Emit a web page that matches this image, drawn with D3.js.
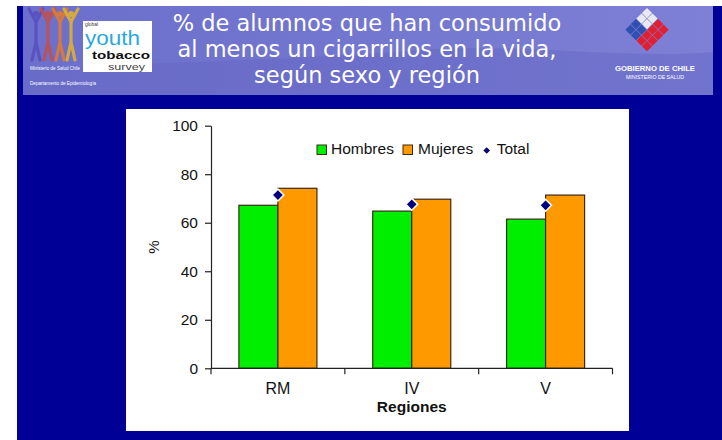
<!DOCTYPE html>
<html><head><meta charset="utf-8">
<script src="https://cdn.jsdelivr.net/npm/d3@7"></script>
<style>html,body{margin:0;padding:0;background:#fff;}svg{display:block;}</style>
</head><body>
<script>
const titleLines = ["% de alumnos que han consumido","al menos un cigarrillos en la vida,","según sexo y región"];
const categories = ["RM","IV","V"];
const seriesNames = ["Hombres","Mujeres"];
const hombres = [67.2, 64.8, 61.5];
const mujeres = [74.2, 69.7, 71.4];
const total = [71.4, 67.6, 67.2];
const yTicks = [0,20,40,60,80,100];
const legendLabels = ["Hombres","Mujeres","Total"];
const xTitle = "Regiones";
const yTitle = "%";

const colors = {Hombres:"#00ee00", Mujeres:"#ff9900", Total:"#000080"};
const W=722,H=440;
const svg = d3.select("body").append("svg").attr("width",W).attr("height",H);
const defs = svg.append("defs");
const g1 = defs.append("linearGradient").attr("id","ban").attr("x1","0").attr("x2","1").attr("y1","0").attr("y2","0");
g1.append("stop").attr("offset","0").attr("stop-color","#6c6fcb");
g1.append("stop").attr("offset","0.5").attr("stop-color","#7477cf");
g1.append("stop").attr("offset","1").attr("stop-color","#7d80d5");

// backgrounds
svg.append("rect").attr("x",17).attr("y",6).attr("width",W-17).attr("height",H-6).attr("fill","#000096");
svg.append("rect").attr("x",23).attr("y",6).attr("width",690).attr("height",89).attr("fill","url(#ban)");
svg.append("path").attr("d","M23,95 L23,70 C150,62 300,60 420,50 C520,42 620,60 713,52 L713,95 Z").attr("fill","#6467c4").attr("opacity",0.45);

// left figures logo
const figs = [{x:36,c:"#5a4fc0"},{x:48,c:"#c0504f"},{x:60,c:"#e07a30"},{x:71,c:"#e0b030"}];
figs.forEach((f,i)=>{
  const gg = svg.append("g").attr("fill","none").attr("stroke",f.c).attr("stroke-width",3.2).attr("stroke-linecap","round").attr("opacity",0.9);
  gg.append("circle").attr("cx",f.x).attr("cy",14).attr("r",3).attr("fill",f.c).attr("stroke","none");
  gg.append("path").attr("d",`M${f.x-7},9 L${f.x},22 L${f.x+7},9`);
  gg.append("path").attr("d",`M${f.x},20 L${f.x},42 M${f.x},42 L${f.x-4},60 M${f.x},42 L${f.x+4},60`);
});
const smallFont = "Liberation Sans, sans-serif";
svg.append("text").attr("x",30).attr("y",70).attr("font-family",smallFont).attr("font-size",6).attr("fill","#fff").attr("textLength",50).attr("lengthAdjust","spacingAndGlyphs").text("Ministerio de Salud Chile");
svg.append("text").attr("x",30).attr("y",85).attr("font-family",smallFont).attr("font-size",6).attr("fill","#fff").attr("textLength",66).attr("lengthAdjust","spacingAndGlyphs").text("Departamento de Epidemiología");
// GYTS box
svg.append("rect").attr("x",83).attr("y",21).attr("width",69).attr("height",51).attr("fill","#fff");
svg.append("text").attr("x",85).attr("y",25.5).attr("font-family",smallFont).attr("font-size",6).attr("fill","#333").attr("textLength",13).attr("lengthAdjust","spacingAndGlyphs").text("global");
svg.append("text").attr("x",85).attr("y",45).attr("font-family",smallFont).attr("font-size",20).attr("fill","#2aa8e0").attr("textLength",55).attr("lengthAdjust","spacingAndGlyphs").text("youth");
svg.append("text").attr("x",92).attr("y",59).attr("font-family",smallFont).attr("font-weight","bold").attr("font-size",11).attr("fill","#111").attr("textLength",58).attr("lengthAdjust","spacingAndGlyphs").text("tobacco");
svg.append("text").attr("x",108).attr("y",69.5).attr("font-family",smallFont).attr("font-size",9.5).attr("fill","#444").attr("textLength",37).attr("lengthAdjust","spacingAndGlyphs").text("survey");

// right logo (diamond grid)
const lg = svg.append("g").attr("transform","translate(647,8) rotate(45)");
const n=4, cs=7.2;
for(let i=0;i<n;i++)for(let j=0;j<n;j++){
  let col;
  if(i<2&&j<2) col="#e8e8f0"; else if(i<2&&j>=2) col="#3050b0"; else col="#e02030";
  lg.append("rect").attr("x",i*(cs+0.6)).attr("y",j*(cs+0.6)).attr("width",cs).attr("height",cs).attr("fill",col);
}
svg.append("text").attr("x",655).attr("y",71).attr("text-anchor","middle").attr("font-family",smallFont).attr("font-weight","bold").attr("font-size",8).attr("fill","#fff").attr("textLength",80).attr("lengthAdjust","spacingAndGlyphs").text("GOBIERNO DE CHILE");
svg.append("text").attr("x",655).attr("y",79).attr("text-anchor","middle").attr("font-family",smallFont).attr("font-size",4.6).attr("fill","#fff").attr("textLength",58).attr("lengthAdjust","spacingAndGlyphs").text("MINISTERIO DE SALUD");

// title
const tt = svg.append("text").attr("font-family","DejaVu Sans, Verdana, sans-serif").attr("font-size",22.5).attr("fill","#fff").attr("text-anchor","middle");
[31,57,83].forEach((y,i)=>tt.append("tspan").attr("x",367).attr("y",y).text(titleLines[i]));

// panel
svg.append("rect").attr("x",126).attr("y",109).attr("width",503).attr("height",322).attr("fill","#fff");

// scales
const x0 = d3.scaleBand().domain(categories).range([211,612.5]).padding(0);
const x1 = d3.scaleBand().domain(seriesNames).range([0,x0.bandwidth()]).paddingInner(0).paddingOuter(0.715);
const y = d3.scaleLinear().domain([0,100]).range([368.3,125.7]);
const font = "Liberation Sans, Arial, sans-serif";

// bars
const vals = {Hombres:hombres, Mujeres:mujeres};
categories.forEach((c,ci)=>{
  seriesNames.forEach(s=>{
    svg.append("rect").attr("x",x0(c)+x1(s)).attr("y",y(vals[s][ci])).attr("width",x1.bandwidth()).attr("height",y(0)-y(vals[s][ci]))
      .attr("fill",colors[s]).attr("stroke","#3a2a1a").attr("stroke-width",1.2);
  });
});
// total diamonds
categories.forEach((c,ci)=>{
  const cx = x0(c)+x0.bandwidth()/2, cy=y(total[ci]);
  svg.append("path").attr("d",d3.symbol().type(d3.symbolSquare).size(70)()).attr("transform",`translate(${cx},${cy}) rotate(45)`).attr("fill",colors.Total).attr("stroke","#fff").attr("stroke-width",1.5);
});

// y axis
const ya = svg.append("g").attr("transform","translate(211,0)").call(d3.axisLeft(y).tickValues(yTicks).tickSize(6).tickPadding(7).tickSizeOuter(0));
ya.selectAll("text").attr("font-family",font).attr("font-size",15.5).attr("fill","#111");
ya.selectAll("line,path").attr("stroke","#222").attr("stroke-width",1.2);

// x axis
const xa = svg.append("g").attr("transform",`translate(0,${y(0)})`);
xa.append("line").attr("x1",x0.range()[0]).attr("x2",x0.range()[1]).attr("stroke","#222").attr("stroke-width",1.2);
const bounds = categories.map(c=>x0(c)).concat([x0.range()[1]]);
bounds.forEach(b=>xa.append("line").attr("x1",b).attr("x2",b).attr("y1",0).attr("y2",6).attr("stroke","#222").attr("stroke-width",1.2));
categories.forEach(c=>xa.append("text").attr("x",x0(c)+x0.bandwidth()/2).attr("y",25.5).attr("text-anchor","middle").attr("font-family",font).attr("font-size",16).attr("fill","#111").text(c));
svg.append("text").attr("x",(x0.range()[0]+x0.range()[1])/2).attr("y",411.5).attr("text-anchor","middle").attr("font-family",font).attr("font-weight","bold").attr("font-size",15.5).attr("fill","#111").text(xTitle);
svg.append("text").attr("transform","translate(159,247) rotate(-90)").attr("text-anchor","middle").attr("font-family",font).attr("font-size",15).attr("fill","#111").text(yTitle);

// legend
const lgd = svg.append("g").attr("font-family",font).attr("font-size",15.5).attr("fill","#111");
lgd.append("rect").attr("x",317).attr("y",145).attr("width",9.5).attr("height",9.5).attr("fill",colors.Hombres).attr("stroke","#3a2a1a");
lgd.append("text").attr("x",331).attr("y",154.3).text(legendLabels[0]);
lgd.append("rect").attr("x",403).attr("y",145).attr("width",9.5).attr("height",9.5).attr("fill",colors.Mujeres).attr("stroke","#3a2a1a");
lgd.append("text").attr("x",418).attr("y",154.3).text(legendLabels[1]);
lgd.append("path").attr("d",d3.symbol().type(d3.symbolSquare).size(22)()).attr("transform","translate(486.7,150.5) rotate(45)").attr("fill",colors.Total);
lgd.append("text").attr("x",496.7).attr("y",154.3).text(legendLabels[2]);
</script>
</body></html>
